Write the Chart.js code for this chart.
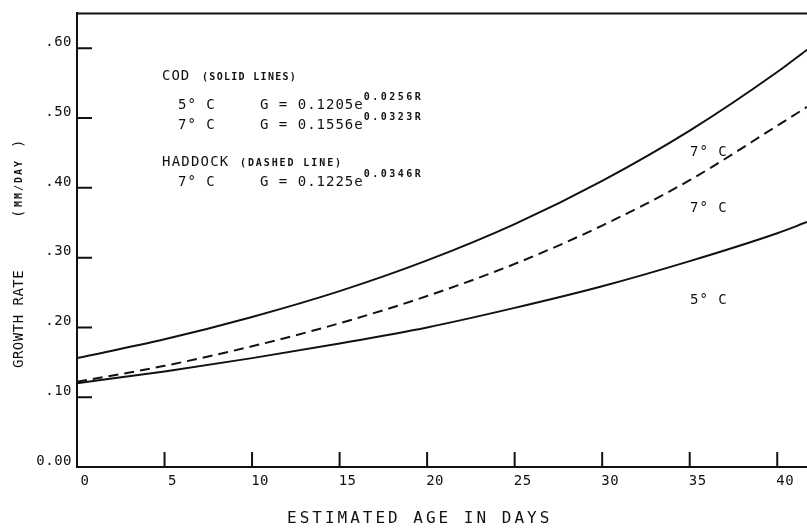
<!DOCTYPE html>
<html>
<head>
<meta charset="utf-8">
<title>Growth rate vs estimated age</title>
<script src="https://cdn.jsdelivr.net/npm/chart.js@4.4.1/dist/chart.umd.min.js"></script>
<style>
  html, body { margin: 0; padding: 0; background: #fff; }
  #wrap { width: 807px; height: 529px; position: relative; }
</style>
</head>
<body>
<div id="wrap"><canvas id="chartGrowth"></canvas></div>
<script>
// --- data (growth rate, mm/day) ---
const ageDays  = [0, 5, 10, 15, 20, 25, 30, 35, 40, 41.7];
const cod5     = [0.120, 0.137, 0.156, 0.177, 0.200, 0.228, 0.259, 0.295, 0.335, 0.351];
const cod7     = [0.156, 0.183, 0.215, 0.252, 0.296, 0.348, 0.410, 0.482, 0.566, 0.598];
const haddock7 = [0.122, 0.145, 0.173, 0.206, 0.245, 0.291, 0.346, 0.411, 0.489, 0.516];

const xTickValues = [0, 5, 10, 15, 20, 25, 30, 35, 40];
const xTickLabels = ['0', '5', '10', '15', '20', '25', '30', '35', '40'];
const yTickValues = [0, 0.1, 0.2, 0.3, 0.4, 0.5, 0.6];
const yTickLabels = ['0.00', '.10', '.20', '.30', '.40', '.50', '.60'];

// --- style ---
const ink = '#111';
const mono = '"DejaVu Sans Mono", monospace';

function points(vals) {
    return ageDays.map((x, i) => ({ x: x, y: vals[i] }));
}

function txt(ctx, s, x, y, size, spacing, weight) {
    ctx.font = (weight || 'normal') + ' ' + size + 'px ' + mono;
    ctx.letterSpacing = spacing + 'px';
    ctx.fillText(s, x, y);
    return ctx.measureText(s).width;
}

// ticks pointing inward, top frame line, titles and notes
const plotterDecor = {
    id: 'plotterDecor',
    beforeDraw(chart) {
        chart.ctx.letterSpacing = '0.5px';
    },
    afterDraw(chart) {
        const ctx = chart.ctx;
        const a = chart.chartArea;
        const xs = chart.scales.x, ys = chart.scales.y;
        ctx.save();
        ctx.strokeStyle = ink;
        ctx.fillStyle = ink;
        ctx.lineWidth = 2;

        ctx.beginPath();
        ctx.moveTo(a.left - 1, a.top);
        ctx.lineTo(a.right, a.top);
        yTickValues.forEach(v => {
            if (v === 0) return;
            const py = ys.getPixelForValue(v);
            ctx.moveTo(a.left, py);
            ctx.lineTo(a.left + 15, py);
        });
        xTickValues.forEach(v => {
            if (v === 0) return;
            const px = xs.getPixelForValue(v);
            ctx.moveTo(px, a.bottom);
            ctx.lineTo(px, a.bottom - 15);
        });
        ctx.stroke();

        ctx.textBaseline = 'middle';
        ctx.textAlign = 'left';

        // x title
        txt(ctx, 'ESTIMATED AGE IN DAYS', 287, 519, 16, 3);

        // y title (rotated)
        ctx.save();
        ctx.translate(19, 368);
        ctx.rotate(-Math.PI / 2);
        txt(ctx, 'GROWTH RATE', 0, 0, 14, 0.5);
        txt(ctx, '(', 150, 0, 14, 0);
        txt(ctx, 'MM/DAY', 161, 0, 10, 2, 'bold');
        txt(ctx, ')', 220, 0, 14, 0);
        ctx.restore();

        // formula block
        let w = txt(ctx, 'COD', 162, 76, 14, 1);
        txt(ctx, '(SOLID LINES)', 202, 77, 10, 1.3, 'bold');

        txt(ctx, '5° C', 178, 105, 14, 1);
        w = txt(ctx, 'G = 0.1205e', 260, 105, 14, 1);
        txt(ctx, '0.0256R', 260 + w, 97, 10, 2.5, 'bold');

        txt(ctx, '7° C', 178, 125, 14, 1);
        w = txt(ctx, 'G = 0.1556e', 260, 125, 14, 1);
        txt(ctx, '0.0323R', 260 + w, 117, 10, 2.5, 'bold');

        txt(ctx, 'HADDOCK', 162, 162, 14, 1.2);
        txt(ctx, '(DASHED LINE)', 240, 163, 10, 1.9, 'bold');

        txt(ctx, '7° C', 178, 182, 14, 1);
        w = txt(ctx, 'G = 0.1225e', 260, 182, 14, 1);
        txt(ctx, '0.0346R', 260 + w, 174, 10, 2.5, 'bold');

        // curve labels on the right
        txt(ctx, '7° C', 690, 152, 14, 1);
        txt(ctx, '7° C', 690, 208, 14, 1);
        txt(ctx, '5° C', 690, 300, 14, 1);

        ctx.restore();
    }
};

document.addEventListener('DOMContentLoaded', function () {
    const ctxGrowth = document.getElementById('chartGrowth');
    new Chart(ctxGrowth, {
        type: 'line',
        data: {
            datasets: [
                { label: 'Cod 5° C', data: points(cod5) },
                { label: 'Cod 7° C', data: points(cod7) },
                { label: 'Haddock 7° C', data: points(haddock7), borderDash: [10, 6] }
            ].map(d => Object.assign({
                borderColor: ink,
                borderWidth: 2,
                pointRadius: 0,
                fill: false,
                cubicInterpolationMode: 'monotone'
            }, d))
        },
        options: {
            responsive: true,
            maintainAspectRatio: false,
            animation: false,
            devicePixelRatio: 1,
            layout: { padding: { top: 11, right: 0, left: 0, bottom: 0 } },
            plugins: {
                legend: { display: false },
                tooltip: { enabled: false }
            },
            scales: {
                x: {
                    type: 'linear',
                    min: 0,
                    max: 41.7,
                    afterBuildTicks: s => { s.ticks = xTickValues.map(v => ({ value: v })); },
                    afterFit: s => { s.height = 62; },
                    grid: { display: false, drawTicks: false },
                    border: { display: true, color: ink, width: 2 },
                    ticks: {
                        color: ink,
                        font: { family: mono, size: 14 },
                        padding: 6,
                        labelOffset: 8,
                        maxRotation: 0,
                        callback: (v, i) => xTickLabels[i]
                    }
                },
                y: {
                    type: 'linear',
                    min: 0,
                    max: 0.65,
                    afterBuildTicks: s => { s.ticks = yTickValues.map(v => ({ value: v })); },
                    afterFit: s => { s.width = 77; },
                    grid: { display: false, drawTicks: false },
                    border: { display: true, color: ink, width: 2 },
                    ticks: {
                        color: ink,
                        font: { family: mono, size: 14 },
                        padding: 5,
                        labelOffset: -6,
                        callback: (v, i) => yTickLabels[i]
                    }
                }
            }
        },
        plugins: [plotterDecor]
    });
});
</script>
</body>
</html>
